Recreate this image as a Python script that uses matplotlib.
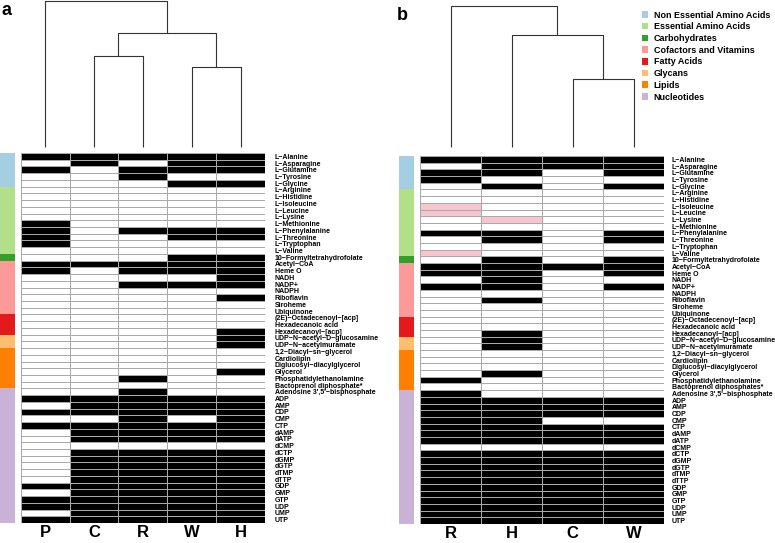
import numpy as np
import matplotlib
matplotlib.use("Agg")
import matplotlib.pyplot as plt
from matplotlib.colors import ListedColormap
from matplotlib.patches import Patch

plt.rcParams['font.family'] = ['Liberation Sans', 'DejaVu Sans']

metabolites = [
    "L\u2212Alanine", "L\u2212Asparagine", "L\u2212Glutamine", "L\u2212Tyrosine", "L\u2212Glycine",
    "L\u2212Arginine", "L\u2212Histidine", "L\u2212Isoleucine", "L\u2212Leucine", "L\u2212Lysine",
    "L\u2212Methionine", "L\u2212Phenylalanine", "L\u2212Threonine", "L\u2212Tryptophan", "L\u2212Valine",
    "10\u2212Formyltetrahydrofolate",
    "Acetyl\u2212CoA", "Heme O", "NADH", "NADP+", "NADPH", "Riboflavin", "Siroheme", "Ubiquinone",
    "(2E)\u2212Octadecenoyl\u2212[acp]", "Hexadecanoic acid", "Hexadecanoyl\u2212[acp]",
    "UDP\u2212N\u2212acetyl\u2212D\u2212glucosamine", "UDP\u2212N\u2212acetylmuramate",
    "1,2\u2212Diacyl\u2212sn\u2212glycerol", "Cardiolipin", "Diglucosyl\u2212diacylglycerol", "Glycerol",
    "Phosphatidylethanolamine", "Bactoprenol diphosphate*",
    "Adenosine 3',5'\u2212bisphosphate", "ADP", "AMP", "CDP", "CMP", "CTP", "dAMP", "dATP", "dCMP",
    "dCTP", "dGMP", "dGTP", "dTMP", "dTTP", "GDP", "GMP", "GTP", "UDP", "UMP", "UTP",
]
metabolites_b = list(metabolites)
metabolites_b[34] = "Bactoprenol diphosphates*"

categories = ["Non Essential Amino Acids", "Essential Amino Acids", "Carbohydrates",
              "Cofactors and Vitamins", "Fatty Acids", "Glycans", "Lipids", "Nucleotides"]
category_sizes = [5, 10, 1, 8, 3, 2, 6, 20]
category_colors = ["#a6cee3", "#b2df8a", "#33a02c", "#fb9a99", "#e31a1c", "#fdbf6f", "#ff7f00", "#cab2d6"]

# panel a: 1 = present (black), 0 = absent
cols_a = ["P", "C", "R", "W", "H"]
a_P = [1, 0, 1, 0, 0, 0, 0, 0, 0, 0, 1, 1, 1, 1, 0, 0, 1, 1, 0, 0, 0, 0, 0, 0, 0, 0, 0, 0,
       0, 0, 0, 0, 0, 0, 0, 0, 1, 0, 1, 0, 1, 0, 0, 0, 0, 0, 0, 0, 0, 1, 0, 1, 1, 0, 1]
a_C = [1, 1, 0, 0, 0, 0, 0, 0, 0, 0, 0, 0, 0, 0, 0, 0, 1, 0, 0, 0, 0, 0, 0, 0, 0, 0, 0, 0,
       0, 0, 0, 0, 0, 0, 0, 0, 1, 1, 1, 0, 1, 1, 1, 0, 1, 1, 1, 1, 1, 1, 1, 1, 1, 1, 1]
a_R = [1, 0, 1, 1, 0, 0, 0, 0, 0, 0, 0, 1, 0, 0, 0, 0, 1, 1, 0, 1, 0, 0, 0, 0, 0, 0, 0, 0,
       0, 0, 0, 0, 0, 1, 0, 1, 1, 1, 1, 1, 1, 1, 1, 0, 1, 1, 1, 1, 1, 1, 1, 1, 1, 1, 1]
a_W = [1, 1, 1, 0, 1, 0, 0, 0, 0, 0, 0, 1, 1, 0, 0, 1, 1, 1, 0, 1, 0, 0, 0, 0, 0, 0, 0, 0,
       0, 0, 0, 0, 0, 0, 0, 0, 1, 1, 1, 0, 1, 1, 1, 0, 1, 1, 1, 1, 1, 1, 1, 1, 1, 1, 1]
a_H = [1, 1, 1, 0, 1, 0, 0, 0, 0, 0, 0, 1, 1, 0, 0, 1, 1, 1, 1, 1, 0, 1, 0, 0, 0, 0, 1, 1,
       1, 0, 0, 0, 1, 0, 0, 0, 1, 1, 1, 1, 1, 1, 1, 0, 1, 1, 1, 1, 1, 1, 1, 1, 1, 1, 1]

# panel b: 2 = pink cell
cols_b = ["R", "H", "C", "W"]
b_R = [1, 0, 1, 1, 0, 0, 0, 2, 2, 0, 0, 1, 0, 0, 2, 0, 1, 1, 0, 1, 0, 0, 0, 0, 0, 0, 0, 0,
       0, 0, 0, 0, 0, 1, 0, 1, 1, 1, 1, 1, 1, 1, 1, 0, 1, 1, 1, 1, 1, 1, 1, 1, 1, 1, 1]
b_H = [1, 1, 1, 0, 1, 0, 0, 0, 0, 2, 0, 1, 1, 0, 0, 1, 1, 1, 1, 1, 0, 1, 0, 0, 0, 0, 1, 1,
       1, 0, 0, 0, 1, 0, 0, 0, 1, 1, 1, 1, 1, 1, 1, 0, 1, 1, 1, 1, 1, 1, 1, 1, 1, 1, 1]
b_C = [1, 1, 0, 0, 0, 0, 0, 0, 0, 0, 0, 0, 0, 0, 0, 0, 1, 0, 0, 0, 0, 0, 0, 0, 0, 0, 0, 0,
       0, 0, 0, 0, 0, 0, 0, 0, 1, 1, 1, 0, 1, 1, 1, 0, 1, 1, 1, 1, 1, 1, 1, 1, 1, 1, 1]
b_W = [1, 1, 1, 0, 1, 0, 0, 0, 0, 0, 0, 1, 1, 0, 0, 1, 1, 1, 0, 1, 0, 0, 0, 0, 0, 0, 0, 0,
       0, 0, 0, 0, 0, 0, 0, 0, 1, 1, 1, 0, 1, 1, 1, 0, 1, 1, 1, 1, 1, 1, 1, 1, 1, 1, 1]

# dendrogram merges: (left node, right node, height); leaves are 0..n-1
links_a = [(3, 4, 0.546), (1, 2, 0.62), (6, 5, 0.78), (0, 7, 1.0)]
links_b = [(2, 3, 0.471), (1, 4, 0.773), (0, 5, 0.98)]

W, H = 775, 543
fig = plt.figure(figsize=(W / 100, H / 100), dpi=100)


def px_axes(x0, y0, x1, y1):
    return fig.add_axes([x0 / W, 1 - y1 / H, (x1 - x0) / W, (y1 - y0) / H])


def draw_dendro(ax, links, n):
    xs = {i: i + 0.5 for i in range(n)}
    hs = {i: 0.0 for i in range(n)}
    for k, (l, r, h) in enumerate(links):
        ax.plot([xs[l], xs[l], xs[r], xs[r]], [hs[l], h, h, hs[r]],
                color="#333333", lw=0.8, clip_on=False, solid_capstyle="butt")
        xs[n + k] = (xs[l] + xs[r]) / 2
        hs[n + k] = h
    ax.set_xlim(0, n)
    ax.set_ylim(0, 1)
    ax.axis("off")


def draw_heat(ax, mat, cols, labels, pad):
    cmap = ListedColormap(["white", "black", "#f7c5cd"])
    ax.pcolormesh(mat, cmap=cmap, vmin=-0.5, vmax=2.5, edgecolors="#a9a9a9", linewidth=0.6)
    ax.set_xlim(0, mat.shape[1])
    ax.set_ylim(mat.shape[0], 0)
    ax.yaxis.tick_right()
    ax.set_yticks(np.arange(len(labels)) + 0.5, labels, fontsize=5, fontweight="bold")
    ax.set_xticks(np.arange(len(cols)) + 0.5, cols, fontsize=12, fontweight="bold")
    ax.tick_params(axis="y", length=0, pad=pad)
    ax.tick_params(axis="x", length=0, pad=1.5)
    for s in ax.spines.values():
        s.set_visible(False)


def draw_strip(ax):
    groups = np.repeat(np.arange(len(category_sizes)), category_sizes)[:, None]
    ax.pcolormesh(groups, cmap=ListedColormap(category_colors), vmin=-0.5, vmax=len(categories) - 0.5)
    ax.set_ylim(len(groups), 0)
    ax.axis("off")


# panel a
mat_a = np.column_stack([a_P, a_C, a_R, a_W, a_H])
draw_dendro(px_axes(20.7, 0.5, 265, 147), links_a, len(cols_a))
draw_heat(px_axes(20.7, 153, 265, 523), mat_a, cols_a, metabolites, 7)
draw_strip(px_axes(0, 153, 15, 523))
fig.text(1 / W, 1 - 15 / H, "a", fontsize=13, fontweight="bold")

# panel b
mat_b = np.column_stack([b_R, b_H, b_C, b_W])
draw_dendro(px_axes(420, 2.7, 664.3, 147), links_b, len(cols_b))
draw_heat(px_axes(420, 156, 664.3, 524), mat_b, cols_b, metabolites_b, 5.3)
draw_strip(px_axes(399, 156, 414.3, 524))
fig.text(397 / W, 1 - 20 / H, "b", fontsize=13, fontweight="bold")

handles = [Patch(facecolor=c, edgecolor="none") for c in category_colors]
fig.legend(handles, categories, loc="upper left", bbox_to_anchor=(638 / W, 1 - 7 / H),
           frameon=False, prop={"size": 6.5, "weight": "bold"}, handlelength=0.75,
           handleheight=0.75, handletextpad=0.6, labelspacing=0.3, borderaxespad=0)

fig.savefig("out.png", dpi=100)
